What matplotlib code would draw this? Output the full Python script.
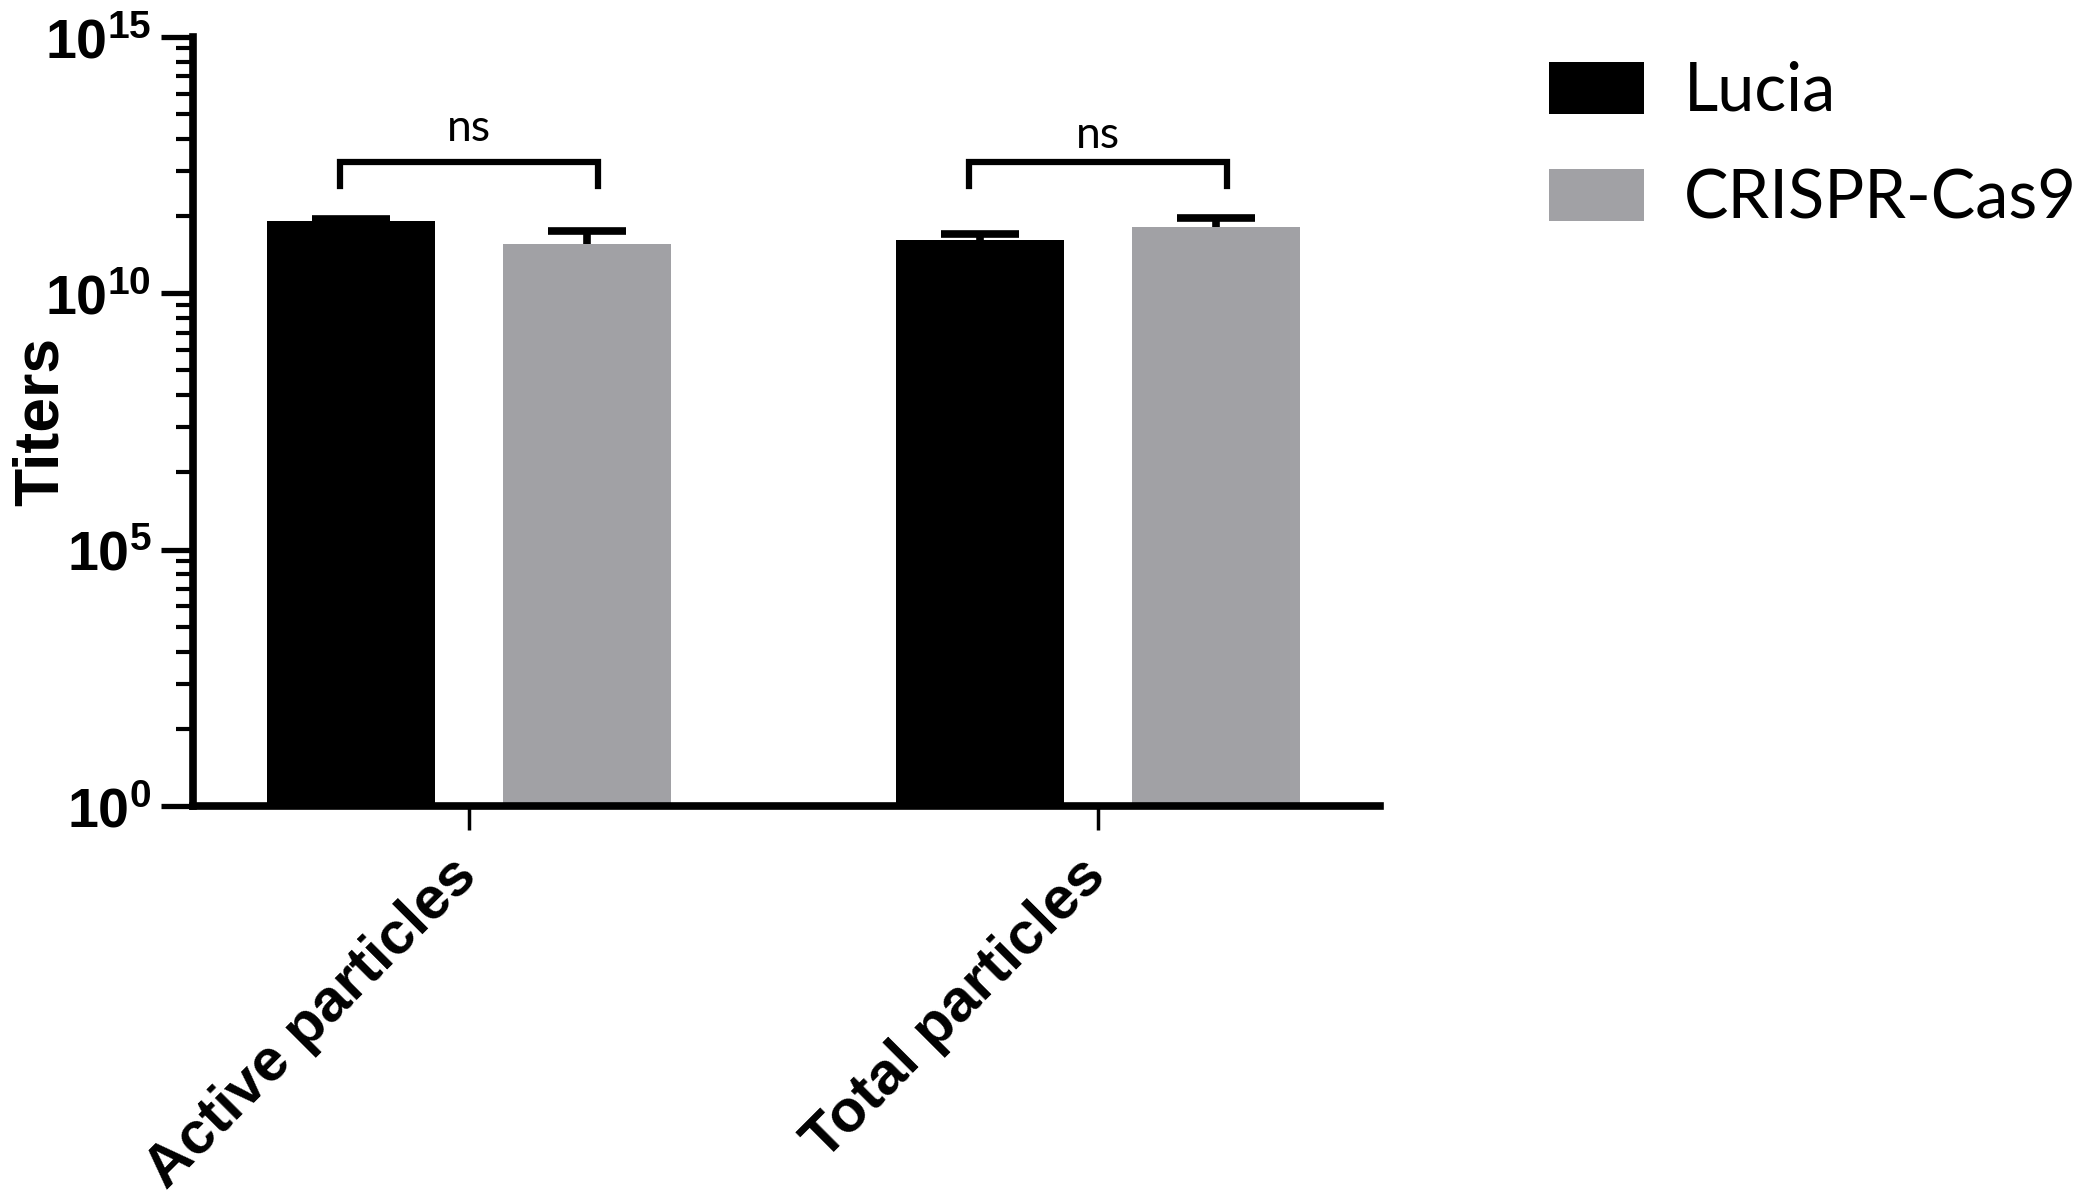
import numpy as np
import matplotlib
matplotlib.use('Agg')
import matplotlib.pyplot as plt
import matplotlib.transforms as mtransforms
from matplotlib.patches import Patch
from matplotlib.ticker import FixedLocator, FuncFormatter, NullFormatter

# data
categories = ['Active particles', 'Total particles']
groups = ['Lucia', 'CRISPR-Cas9']
lucia_mean = [2.5e11, 1.08e11]
lucia_err = [0.25e11, 0.34e11]
cas9_mean = [0.91e11, 1.97e11]
cas9_err = [0.7e11, 1.0e11]
sig_labels = ['ns', 'ns']
bracket_top = [3.6e12, 3.6e12]
bracket_leg = [1.25e12, 1.2e12]
label_y = [6.6e12, 4.7e12]

colors = ['#000000', '#a1a1a5']

plt.rcParams['mathtext.fontset'] = 'custom'
plt.rcParams['mathtext.bf'] = 'Liberation Sans:bold'
plt.rcParams['mathtext.rm'] = 'Liberation Sans'

fig = plt.figure(figsize=(21, 12.03), dpi=100)
ax = fig.add_axes([0.0919, 0.330, 0.5651, 0.6395])

x = np.arange(len(categories))
w = 0.267
off = 0.1876

ax.bar(x - off, lucia_mean, w, bottom=1, color=colors[0], zorder=2)
ax.bar(x + off, cas9_mean, w, bottom=1, color=colors[1], zorder=2)
for xs, m, e in [(x - off, lucia_mean, lucia_err), (x + off, cas9_mean, cas9_err)]:
    eb = ax.errorbar(xs, m, yerr=[np.zeros(len(m)), e], fmt='none', ecolor='black',
                     elinewidth=5.5, capsize=28, capthick=5.5, zorder=3)
    eb[1][0].set_visible(False)   # only the upper cap

# significance brackets
for i in range(len(categories)):
    xl, xr = x[i] - 0.205, x[i] + 0.205
    ax.plot([xl, xl, xr, xr], [bracket_leg[i], bracket_top[i], bracket_top[i], bracket_leg[i]],
            color='black', lw=4.5, solid_joinstyle='miter', zorder=3)
    ax.text(x[i], label_y[i], sig_labels[i], ha='center', va='bottom',
            fontsize=32, family='Lato')

ax.set_yscale('log')
ax.set_ylim(1, 1e15)
ax.set_xlim(-0.439, 1.448)

ax.yaxis.set_major_locator(FixedLocator([1, 1e5, 1e10, 1e15]))
minor = [10 ** (5 * (n + np.log10(k))) for n in range(3) for k in range(2, 10)]
ax.yaxis.set_minor_locator(FixedLocator(minor))
ax.yaxis.set_minor_formatter(NullFormatter())
ax.yaxis.set_major_formatter(FuncFormatter(
    lambda v, p: r'$\mathbf{10^{%d}}$' % round(np.log10(v))))

# category labels drawn as texts so they can be nudged left of the tick
ax.set_xticks(x)
ax.set_xticklabels([])
shift = mtransforms.ScaledTranslation(-14.5 / 72, -30 / 72, fig.dpi_scale_trans)
for i, cat in enumerate(categories):
    ax.text(x[i], 0, cat, transform=ax.get_xaxis_transform() + shift,
            rotation=45, ha='right', va='top', rotation_mode='anchor',
            fontsize=43, fontweight='bold', family='Liberation Sans')

ax.tick_params(axis='y', which='major', length=23, width=3.8, labelsize=40, pad=7)
ax.tick_params(axis='y', which='minor', length=12, width=3)
ax.tick_params(axis='x', which='major', length=17, width=2.5)

for s in ['top', 'right']:
    ax.spines[s].set_visible(False)
for s in ['left', 'bottom']:
    ax.spines[s].set_linewidth(5.5)

ax.set_ylabel('Titers', fontsize=45, fontweight='bold', family='Liberation Sans')
ax.yaxis.set_label_coords(-0.103, 0.5)

handles = [Patch(facecolor=c, edgecolor='none') for c in colors]
fig.legend(handles, groups, loc='upper left', bbox_to_anchor=(0.7376, 0.9493),
           frameon=False, prop={'family': 'Lato', 'size': 48},
           handlelength=1.43, handleheight=0.81, handletextpad=0.6,
           labelspacing=0.68, borderpad=0, borderaxespad=0)

fig.savefig('out.png', dpi=100)
